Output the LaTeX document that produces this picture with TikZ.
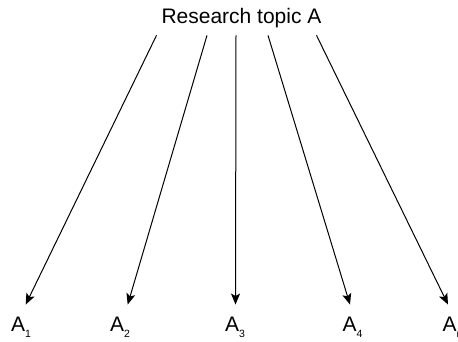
\documentclass[tikz,border=0pt]{standalone}
\usepackage{fontspec}
\setmainfont{Liberation Sans}
\usetikzlibrary{arrows.meta, positioning}

\newcommand{\lsub}[1]{\raisebox{-6pt}{\fontsize{10.5pt}{11pt}\selectfont #1}}

\begin{document}
\begin{tikzpicture}[
      x=1pt, y=1pt,
      every node/.style={inner sep=0pt, outer sep=0pt},
      topic/.style={font=\fontsize{21pt}{24pt}\selectfont, anchor=base},
      lbl/.style={font=\fontsize{21pt}{24pt}\selectfont, anchor=base west},
      arr/.style={-{Stealth[length=11pt, width=9pt, inset=2.5pt]}, line width=1pt},
    ]
    \useasboundingbox (0,0) rectangle (458,342);

    \node[topic] (topic) at (241.5,318) {Research topic A};

    \node[lbl] (a1) at (11,10) {A\lsub{1}};
    \node[lbl] (a2) at (110,10) {A\lsub{2}};
    \node[lbl] (a3) at (225,10) {A\lsub{3}};
    \node[lbl] (a4) at (342.7,10) {A\lsub{4}};
    \node[lbl] (a5) at (442.5,10) {A\lsub{n}};

    % arrows from the topic down to each sub-topic
    \draw[arr] ([xshift=-85pt, yshift=-7pt]topic.south) -- ([xshift=14.7pt, yshift=13pt]a1.north west);
    \draw[arr] ([xshift=-34.5pt, yshift=-7pt]topic.south) -- ([xshift=17.7pt, yshift=13pt]a2.north west);
    \draw[arr] ([xshift=-5.5pt, yshift=-7pt]topic.south) -- ([xshift=10.5pt, yshift=13pt]a3.north west);
    \draw[arr] ([xshift=26.5pt, yshift=-7pt]topic.south) -- ([xshift=7.3pt, yshift=13pt]a4.north west);
    \draw[arr] ([xshift=75pt, yshift=-7pt]topic.south) -- ([xshift=5.5pt, yshift=13pt]a5.north west);
  \end{tikzpicture}
\end{document}
